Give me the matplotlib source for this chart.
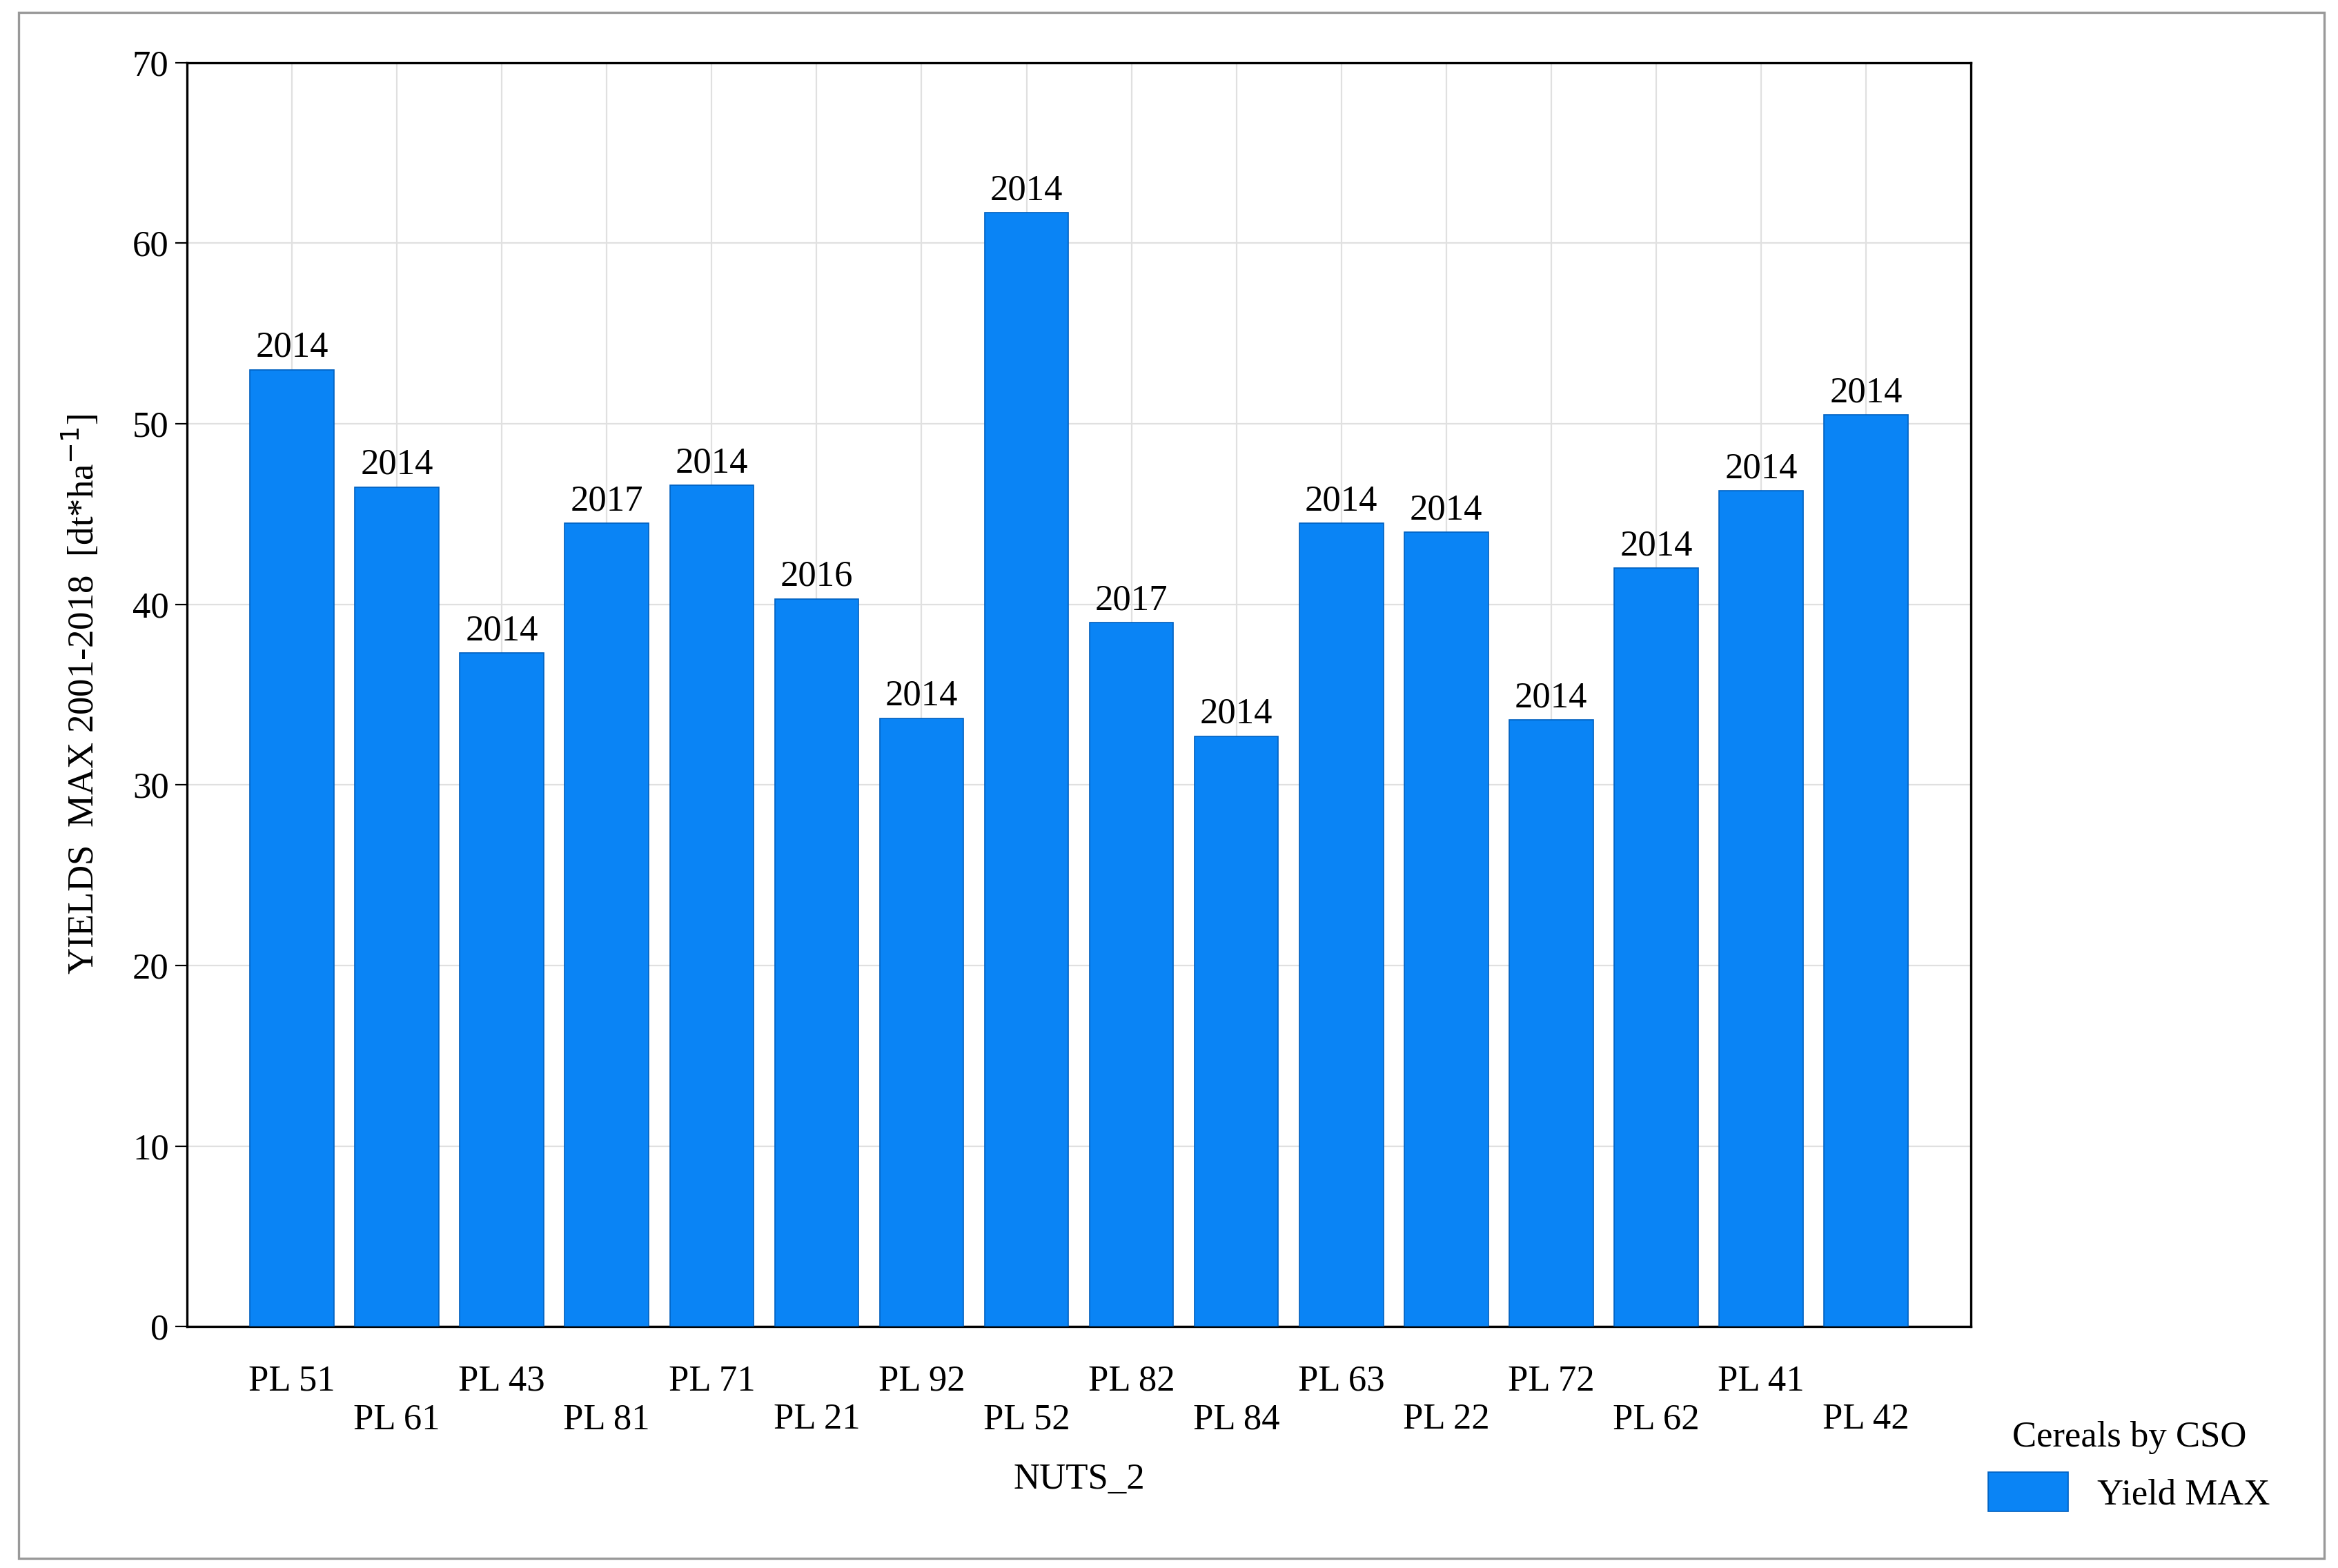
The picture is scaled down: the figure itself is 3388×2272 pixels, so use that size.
import matplotlib.pyplot as plt
from matplotlib.patches import Rectangle

regions = ['PL 51', 'PL 61', 'PL 43', 'PL 81', 'PL 71', 'PL 21', 'PL 92', 'PL 52',
           'PL 82', 'PL 84', 'PL 63', 'PL 22', 'PL 72', 'PL 62', 'PL 41', 'PL 42']
yield_max = [53.0, 46.5, 37.3, 44.5, 46.6, 40.3, 33.7, 61.7,
             39.0, 32.7, 44.5, 44.0, 33.6, 42.0, 46.3, 50.5]
years = ['2014', '2014', '2014', '2017', '2014', '2016', '2014', '2014',
         '2017', '2014', '2014', '2014', '2014', '2014', '2014', '2014']

plt.rcParams['font.family'] = ['Liberation Serif', 'DejaVu Serif']
plt.rcParams['font.size'] = 19

fig = plt.figure(figsize=(16.94, 11.36), dpi=200)
ax = fig.add_axes([0.080, 0.154, 0.763, 0.806])

blue = '#0a84f5'
xs = list(range(len(regions)))
bars = ax.bar(xs, yield_max, width=0.8, color=blue, edgecolor='#0060c0', linewidth=0.6,
              zorder=3, label='Yield MAX')
for x, v, yr in zip(xs, yield_max, years):
    ax.text(x, v + 0.3, yr, ha='center', va='bottom', fontsize=19)

ax.set_xlim(-1, 16)
ax.set_ylim(0, 70)
ax.set_yticks(range(0, 71, 10))
ax.set_xticks(xs)
ax.set_xticklabels([r if i % 2 == 0 else '\n' + r for i, r in enumerate(regions)])
ax.tick_params(axis='x', length=0, pad=20)
ax.tick_params(axis='y', length=6, direction='out')
ax.grid(True, color='#e0e0e0', linewidth=0.8, zorder=0)
for s in ax.spines.values():
    s.set_linewidth(1.2)

ax.set_xlabel('NUTS_2', labelpad=14)
ax.set_ylabel(r'YIELDS  MAX 2001-2018  [dt*ha$^{-1}$]', labelpad=16)

leg = fig.legend(handles=[bars], labels=['Yield MAX'], title='Cereals by CSO',
                 loc='lower right', bbox_to_anchor=(0.985, 0.015), frameon=False,
                 fontsize=19, title_fontsize=19, handlelength=2.2, handleheight=1.3)

fig.patches.append(Rectangle((0.008, 0.006), 0.986, 0.986, transform=fig.transFigure,
                             fill=False, edgecolor='#999999', linewidth=1.2))

fig.savefig('out.png', dpi=200)
